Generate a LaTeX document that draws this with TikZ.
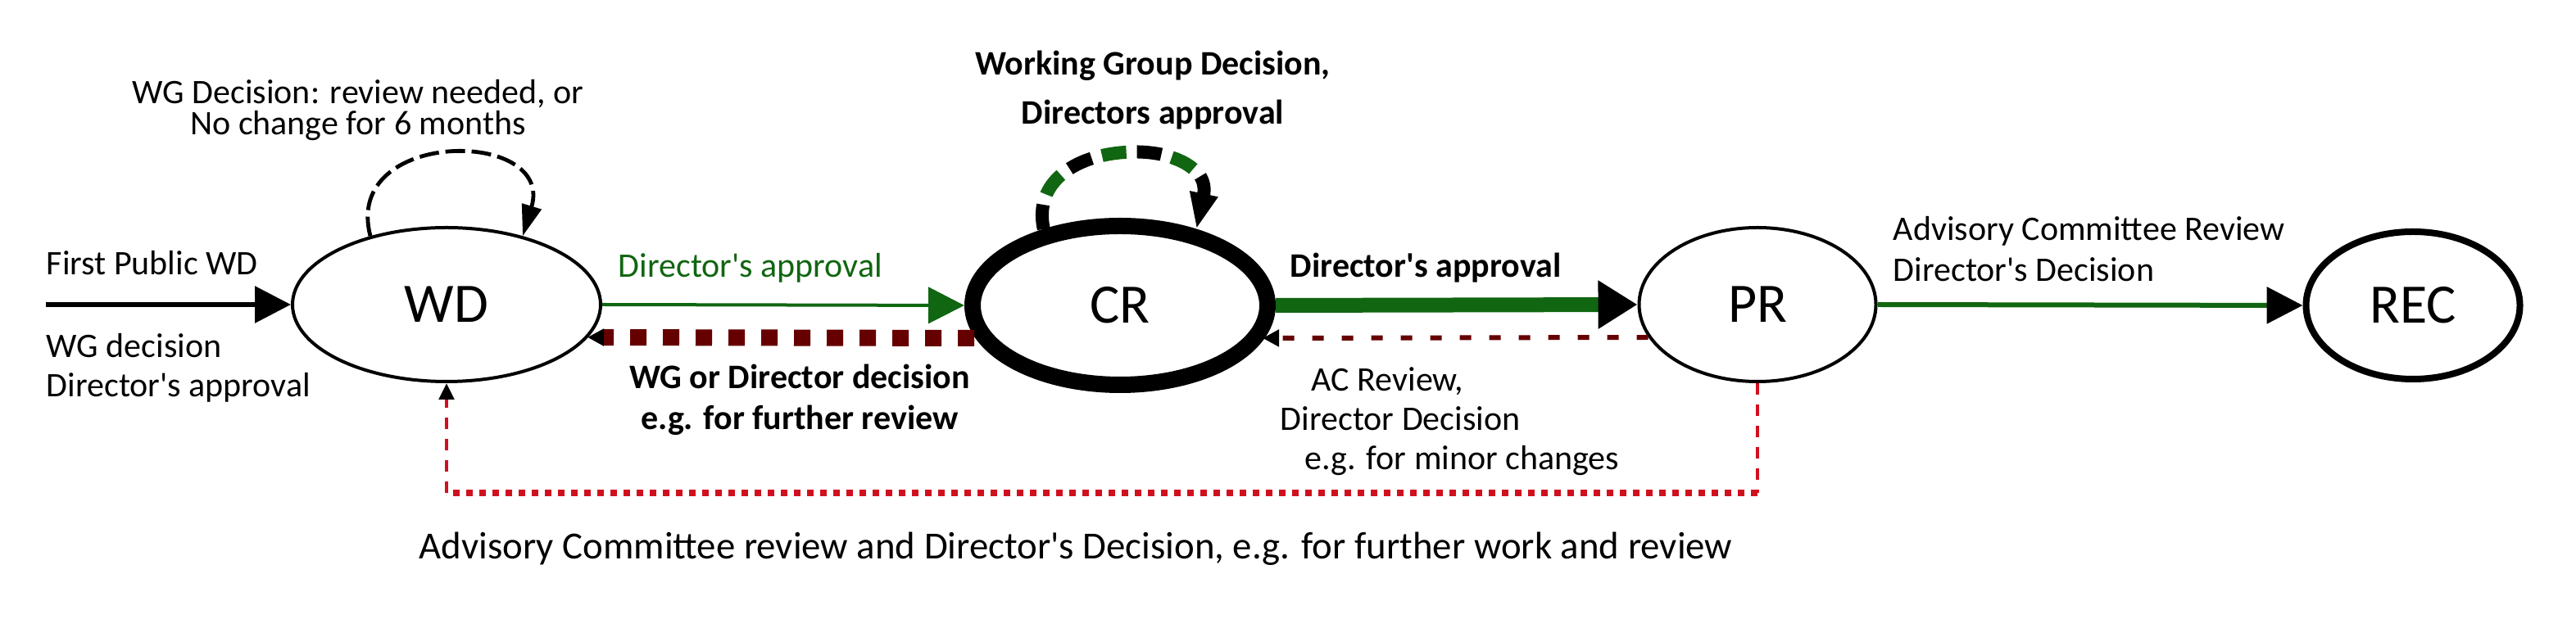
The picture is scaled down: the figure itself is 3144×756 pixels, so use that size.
\documentclass[tikz,border=0pt]{standalone}
\usepackage{fontspec}
\setmainfont{Carlito}
\usetikzlibrary{arrows.meta,shapes.geometric,calc}
\definecolor{dgreen}{HTML}{116611}
\definecolor{dred}{HTML}{660000}
\definecolor{rred}{HTML}{D0101E}
\newcommand{\ap}{\textquotesingle}
\begin{document}
\begin{tikzpicture}[x=0.25pt,y=-0.25pt,
  state/.style={ellipse, draw, fill=white, inner sep=0pt, font=\fontsize{17}{20}\selectfont},
  lbl/.style={inner sep=0pt, font=\fontsize{10.5}{12}\selectfont},
  blbl/.style={inner sep=0pt, font=\fontsize{10.5}{12.5}\selectfont\bfseries},
]
\useasboundingbox (0,0) rectangle (3144,756);

\coordinate (start) at (56,372);
\coordinate (b1) at (2145,602);
\coordinate (b2) at (545,602);

\node[state, line width=1pt, minimum width=94pt, minimum height=47pt] (WD) at (545,372) {WD};
\node[state, line width=5pt, minimum width=90pt, minimum height=48.5pt] (CR) at (1367,373) {CR};
\node[state, line width=1pt, minimum width=72.25pt, minimum height=47pt] (PR) at (2145,372) {PR};
\node[state, line width=2pt, minimum width=65.25pt, minimum height=45pt] (REC) at (2945,373) {REC};

% First public WD
\draw[line width=1.5pt, -{Triangle[length=11pt,width=11pt]}] (start) -- (WD.west);
% WD -> CR
\draw[dgreen, line width=1pt, -{Triangle[length=11pt,width=11pt]}] (WD.east) -- (CR.west);
% CR -> WD
\draw[dred, line width=5pt, dash pattern=on 5pt off 5pt, -{Triangle[length=5pt,width=5pt,black]}]
  ([xshift=3pt,yshift=-10pt]CR.west) -- ([xshift=-4.5pt,yshift=-10pt]WD.east);
% CR -> PR
\draw[dgreen, line width=4.5pt, -{Triangle[length=12pt,width=14pt,black]}] (CR.east) -- (PR.west);
% PR -> CR
\draw[dred, line width=1.5pt, dash pattern=on 3.5pt off 5.5pt, -{Triangle[length=5pt,width=5pt,black]}]
  ([xshift=3.3pt,yshift=-10pt]PR.west) -- ([xshift=-4pt,yshift=-10pt]CR.east);
% PR -> REC
\draw[dgreen, line width=1.5pt, -{Triangle[length=11pt,width=11pt,black]}] (PR.east) -- (REC.west);
% PR -> WD (bottom)
\draw[rred, line width=1.2pt, dash pattern=on 3.5pt off 3pt] (PR.south) -- (b1);
\draw[rred, line width=2pt, dash pattern=on 2pt off 2pt] (b1) -- (b2);
\draw[rred, line width=1.2pt, dash pattern=on 3.5pt off 3pt, -{Triangle[length=5pt,width=4.5pt,black]}] (b2) -- (WD.south);

% WD self loop
\draw[line width=1.2pt, dash pattern=on 6pt off 2pt, -{Triangle[length=9.5pt,width=6pt]}]
  (WD.138) .. controls +(-35,-132) and +(40,-132) .. (WD.42);
% CR self loop (alternating green / black)
\draw[dgreen, line width=4pt, dash pattern=on 7.5pt off 14pt, dash phase=10.75pt, shorten >=10pt]
  (CR.135) .. controls +(-25,-118) and +(25,-118) .. (CR.45);
\draw[black, line width=4pt, dash pattern=on 7.5pt off 14pt, -{Triangle[length=11pt,width=8pt]}]
  (CR.135) .. controls +(-25,-118) and +(25,-118) .. (CR.45);

% labels
\node[lbl, align=center, font=\fontsize{10.5}{9.5}\selectfont] (t1) at (437,135) {WG Decision: review needed, or\\No change for 6 months};
\node[lbl, anchor=west] (t2) at (56,321) {First Public WD};
\node[lbl, anchor=west, align=left] (t3) at (56,449) {WG decision\\Director\ap s approval};
\node[lbl, anchor=west, text=dgreen] (t4) at (754,327) {Director\ap s approval};
\node[blbl, align=center] (t5) at (976,488) {WG or Director decision\\e.g. for further review};
\node[blbl, align=center, font=\fontsize{10.5}{15}\selectfont\bfseries] (t6) at (1407,110) {Working Group Decision,\\Directors approval};
\node[blbl, anchor=west] (t7) at (1574,327) {Director\ap s approval};
\node[lbl, anchor=west, align=left] (t8) at (1562,515) {\hspace*{9.5pt}AC Review,\\Director Decision\\\hspace*{7.5pt}e.g. for minor changes};
\node[lbl, anchor=west, align=left, font=\fontsize{10.5}{12.5}\selectfont] (t9) at (2310,304) {Advisory Committee Review\\Director\ap s Decision};
\node[lbl, font=\fontsize{11.7}{14}\selectfont] (t10) at (1313,670) {Advisory Committee review and Director\ap s Decision, e.g. for further work and review};
\end{tikzpicture}
\end{document}
